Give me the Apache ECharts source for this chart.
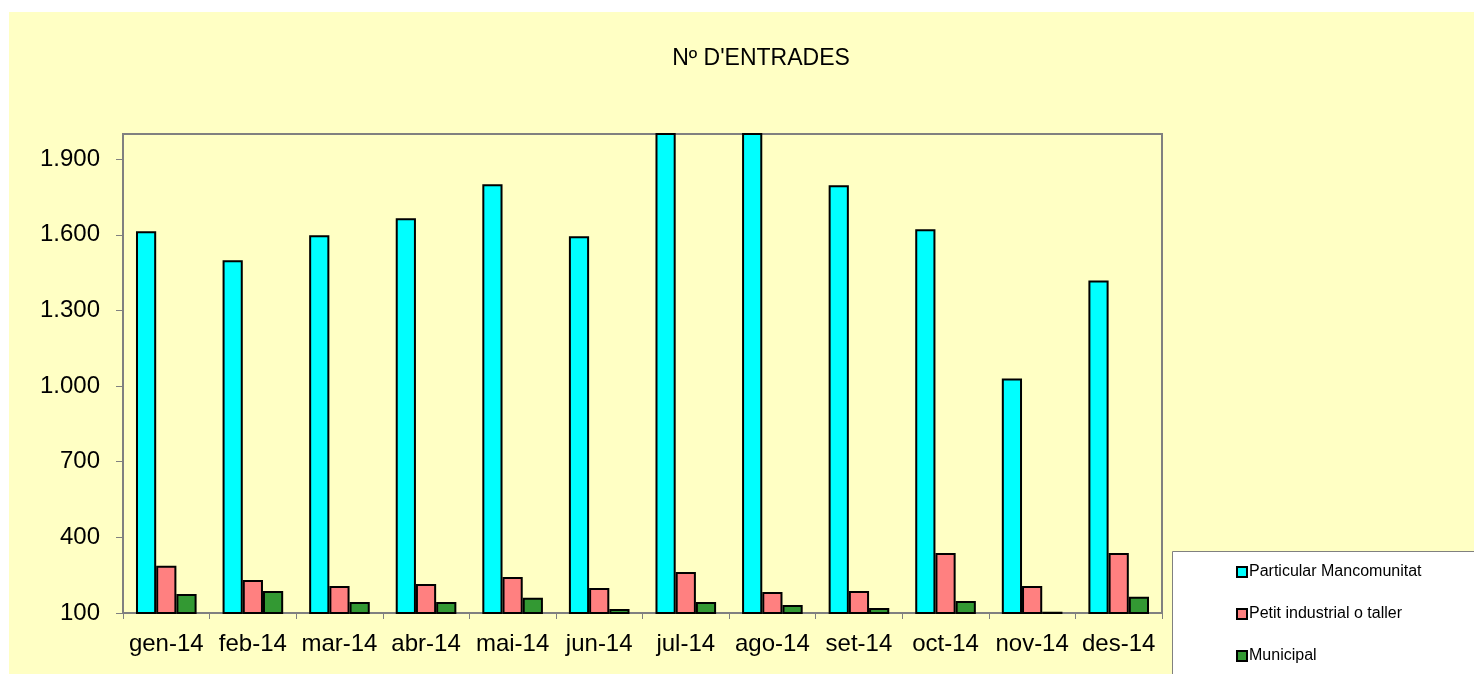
<!DOCTYPE html>
<html>
<head>
<meta charset="utf-8">
<script src="https://cdn.jsdelivr.net/npm/echarts@6/dist/echarts.min.js"></script>
<style>
	html, body { margin: 0; padding: 0; background: #fff; }
	#chart { width: 1474px; height: 674px; }
</style>
</head>
<body>
<div id="chart"></div>
<script>
const months = ['gen-14', 'feb-14', 'mar-14', 'abr-14', 'mai-14', 'jun-14', 'jul-14', 'ago-14', 'set-14', 'oct-14', 'nov-14', 'des-14'];
const particular = [1614, 1499, 1598, 1666, 1801, 1594, 2100, 2060, 1797, 1622, 1030, 1419];
const petitIndustrial = [287, 231, 207, 215, 243, 199, 263, 183, 187, 338, 207, 338];
const municipal = [175, 187, 144, 144, 160, 116, 144, 132, 120, 148, 105, 164];
const seriesNames = ['Particular Mancomunitat', 'Petit industrial o taller', 'Municipal'];

const font = '"Liberation Sans", Arial, sans-serif';
const yellow = '#FFFFC4';
const gray = '#808080';

const fmt = (v) => String(v).replace(/\B(?=(\d{3})+(?!\d))/g, '.');

const barSeries = (name, data, color) => ({
	name,
	type: 'bar',
	data,
	barGap: '0%',
	barCategoryGap: '30%',
	clip: true,
	itemStyle: { color, borderColor: '#000', borderWidth: 2 }
});

const chart = echarts.init(document.getElementById('chart'), null, { renderer: 'canvas' });
chart.setOption({
	animation: false,
	backgroundColor: '#fff',
	textStyle: { fontFamily: font },
	graphic: [
		{ type: 'rect', z: -10, silent: true, shape: { x: 9, y: 12, width: 1465, height: 662 }, style: { fill: yellow } },
		{ type: 'rect', z: -5, silent: true, shape: { x: 1172.5, y: 551.5, width: 302, height: 123 }, style: { fill: '#fff', stroke: gray, lineWidth: 1 } }
	],
	title: {
		text: 'Nº D\'ENTRADES',
		left: 756,
		top: 42,
		textAlign: 'center',
		textStyle: { fontFamily: font, fontSize: 23, fontWeight: 'normal', color: '#000' }
	},
	legend: {
		orient: 'vertical',
		left: 1231,
		top: 559,
		itemWidth: 10,
		itemHeight: 10,
		itemGap: 26,
		icon: 'rect',
		data: seriesNames,
		textStyle: { fontFamily: font, fontSize: 16, color: '#000', padding: [0, 0, 0, -3] }
	},
	grid: {
		left: 123,
		right: 312,
		top: 134,
		bottom: 61,
		show: true,
		backgroundColor: yellow,
		borderColor: gray,
		borderWidth: 2
	},
	xAxis: {
		type: 'category',
		data: months,
		axisLine: { lineStyle: { color: gray, width: 2 } },
		axisTick: { show: true, length: 6, lineStyle: { color: gray } },
		axisLabel: { fontFamily: font, fontSize: 24, color: '#000', margin: 19, interval: 0 }
	},
	yAxis: {
		type: 'value',
		min: 100,
		max: 2000,
		interval: 300,
		axisLine: { show: true, lineStyle: { color: gray, width: 2 } },
		axisTick: { show: true, length: 7, lineStyle: { color: gray } },
		splitLine: { show: false },
		axisLabel: { fontFamily: font, fontSize: 24, color: '#000', margin: 23, showMaxLabel: false, formatter: fmt }
	},
	series: [
		barSeries(seriesNames[0], particular, '#00FFFF'),
		barSeries(seriesNames[1], petitIndustrial, '#FF8080'),
		barSeries(seriesNames[2], municipal, '#339933')
	]
});
</script>
</body>
</html>
